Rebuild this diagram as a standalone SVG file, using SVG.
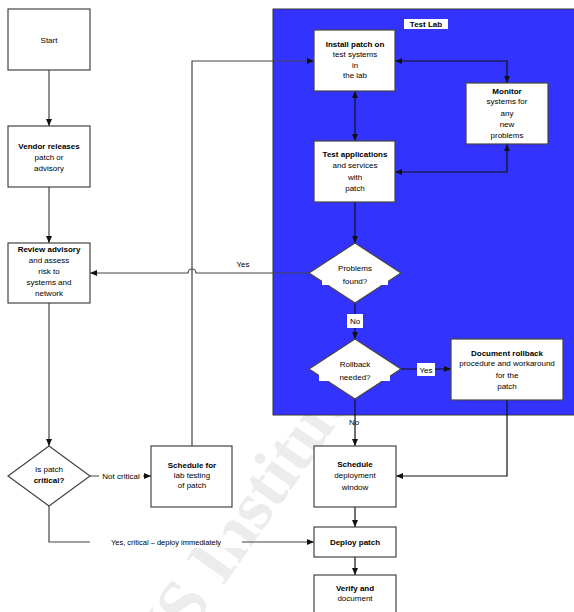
<svg xmlns="http://www.w3.org/2000/svg" width="574" height="612" viewBox="0 0 574 612">
<defs>
<marker id="a" markerWidth="7" markerHeight="6" refX="7" refY="3" orient="auto-start-reverse" markerUnits="userSpaceOnUse"><path d="M0,0 L7,3 L0,6 z" fill="#111"/></marker>
<style>
.box{fill:#fff;stroke:#444;stroke-width:1.2}
.c{fill:none;stroke:#444;stroke-width:1.2}
.cb{fill:none;stroke:#111;stroke-width:1.2}
text{font-family:"Liberation Sans",Arial,sans-serif;font-size:8px;fill:#000;text-anchor:middle}
.b{font-weight:bold}
.lbg{fill:#fff}
.wm{font-family:"Liberation Serif","Times New Roman",serif;font-size:70px;font-weight:bold;fill:#ececec;text-anchor:start}
</style>
</defs>
<rect width="574" height="612" fill="#fff"/>
<text class="wm" transform="translate(110,748) rotate(-55)">SANS Institute</text>

<g id="testlab">
<rect x="273" y="9" width="304" height="406" fill="#3333ff" stroke="#333" stroke-width="1"/>
<rect x="404" y="19" width="44" height="10" fill="#fff"/>
<text x="426" y="27" class="b">Test Lab</text>
</g>

<g id="connectors">
<path class="c" d="M49,70 V126" marker-end="url(#a)"/>
<path class="c" d="M49,187 V243" marker-end="url(#a)"/>
<path class="c" d="M49,303 V446" marker-end="url(#a)"/>
<path class="c" d="M90,476 H151" marker-end="url(#a)"/>
<path class="c" d="M192,446 V61 H314" marker-end="url(#a)"/>
<path class="c" d="M309,273 H196 a4,4 0 0 0 -8,0 H90" marker-end="url(#a)"/>
<path class="cb" d="M355,91 V141" marker-start="url(#a)" marker-end="url(#a)"/>
<path class="cb" d="M395,61 H507 V83" marker-start="url(#a)" marker-end="url(#a)"/>
<path class="cb" d="M395,172 H507 V144" marker-start="url(#a)" marker-end="url(#a)"/>
<path class="cb" d="M355,202 V243" marker-end="url(#a)"/>
<path class="cb" d="M355,303 V339" marker-end="url(#a)"/>
<path class="cb" d="M401,369 H451" marker-end="url(#a)"/>
<path class="cb" d="M355,399 V446" marker-end="url(#a)"/>
<path class="cb" d="M507,400 V476 H396" marker-end="url(#a)"/>
<path class="cb" d="M355,507 V527" marker-end="url(#a)"/>
<path class="cb" d="M355,557 V575" marker-end="url(#a)"/>
<path class="c" d="M49,506 V542 H314" marker-end="url(#a)"/>
<text x="243" y="267">Yes</text>
<rect class="lbg" x="347" y="314" width="16" height="14"/>
<text x="355" y="324">No</text>
<rect class="lbg" x="417" y="363" width="18" height="13"/>
<text x="426" y="373">Yes</text>
<text x="354" y="425">No</text>
<rect class="lbg" x="99" y="470" width="44" height="12"/>
<text x="121" y="479">Not critical</text>
<rect class="lbg" x="90" y="535" width="152" height="13"/>
<text x="166" y="545" style="font-size:7.5px">Yes, critical – deploy immediately</text>
</g>

<g id="start"><rect class="box" x="8" y="9" width="82" height="61"/><text x="49" y="43">Start</text></g>
<g id="announce"><rect class="box" x="8" y="126" width="82" height="61"/>
<text x="49" y="149" class="b">Vendor releases</text><text x="49" y="160">patch or</text><text x="49" y="171">advisory</text></g>
<g id="review"><rect class="box" x="8" y="243" width="82" height="60"/>
<text x="49" y="252" class="b">Review advisory</text><text x="49" y="263">and assess</text><text x="49" y="274">risk to</text><text x="49" y="285">systems and</text><text x="49" y="296">network</text></g>
<g id="critical"><path class="box" d="M49,446 L90,476 L49,506 L8,476 z"/>
<text x="49" y="472">Is patch</text><text x="49" y="483" class="b">critical?</text></g>
<g id="schedule-test"><rect class="box" x="151" y="446" width="81" height="61"/>
<text x="192" y="468" class="b">Schedule for</text><text x="192" y="478">lab testing</text><text x="192" y="488">of patch</text></g>

<g id="install"><rect class="box" x="314" y="30" width="81" height="61"/>
<text x="355" y="47" class="b">Install patch on</text><text x="355" y="57">test systems</text><text x="355" y="68">in</text><text x="355" y="78">the lab</text></g>
<g id="monitor"><rect class="box" x="466" y="83" width="82" height="61"/>
<text x="507" y="94" class="b">Monitor</text><text x="507" y="104">systems for</text><text x="507" y="116">any</text><text x="507" y="127">new</text><text x="507" y="138">problems</text></g>
<g id="test-apps"><rect class="box" x="314" y="141" width="81" height="61"/>
<text x="355" y="157" class="b">Test applications</text><text x="355" y="168">and services</text><text x="355" y="180">with</text><text x="355" y="191">patch</text></g>
<g id="problems"><path class="box" d="M355,243 L401,273 L355,303 L309,273 z"/>
<rect class="lbg" x="322" y="278" width="66" height="7"/>
<text x="355" y="271">Problems</text><text x="355" y="284">found?</text></g>
<g id="rollback-q"><path class="box" d="M355,339 L401,369 L355,399 L309,369 z"/>
<rect class="lbg" x="319" y="374" width="71" height="7"/>
<text x="355" y="367">Rollback</text><text x="355" y="380">needed?</text></g>
<g id="rollback"><rect class="box" x="451" y="339" width="112" height="61"/>
<text x="507" y="356" class="b">Document rollback</text><text x="507" y="366">procedure and workaround</text><text x="507" y="378">for the</text><text x="507" y="389">patch</text></g>
<g id="schedule"><rect class="box" x="314" y="446" width="82" height="61"/>
<text x="355" y="467" class="b">Schedule</text><text x="355" y="478">deployment</text><text x="355" y="490">window</text></g>
<g id="deploy"><rect class="box" x="314" y="527" width="82" height="30"/>
<text x="355" y="545" class="b">Deploy patch</text></g>
<g id="verify"><rect class="box" x="314" y="575" width="82" height="70"/>
<text x="355" y="591" class="b">Verify and</text><text x="355" y="601">document</text></g>
</svg>
